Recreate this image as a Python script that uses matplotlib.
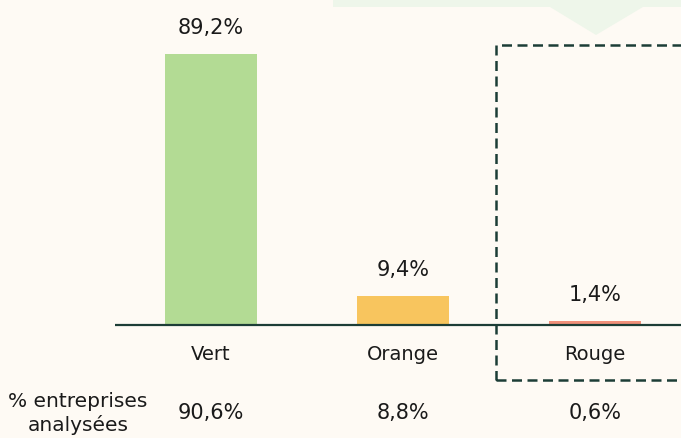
import matplotlib
matplotlib.use("Agg")
import matplotlib.pyplot as plt
from matplotlib.patches import Rectangle, Polygon

categories = ["Vert", "Orange", "Rouge"]
values = [89.2, 9.4, 1.4]
value_labels = ["89,2%", "9,4%", "1,4%"]
share_labels = ["90,6%", "8,8%", "0,6%"]
row_label = "% entreprises\nanalysées"
colors = ["#B3DB94", "#F8C55E", "#F0907A"]

BG = "#FEFAF4"
DARK = "#1C3D36"
TXT = "#1A1A1A"

W, H = 681, 438
fig = plt.figure(figsize=(W / 100, H / 100), dpi=100, facecolor=BG)
ax = fig.add_axes([0, 0, 1, 1])
ax.set_facecolor(BG)

# pixel -> data mapping
px_per_unit = 192.0
x0_px = 211.0
px_per_pct = 271.0 / 89.2
base_px = H - 325.0
ax.set_xlim(-x0_px / px_per_unit, (W - x0_px) / px_per_unit)
ax.set_ylim(-base_px / px_per_pct, (H - base_px) / px_per_pct)
ax.axis("off")

# top decoration (band + arrow)
band = Polygon([(333 / W, 1), (1, 1), (1, 1 - 7 / H), (643 / W, 1 - 7 / H),
                (596 / W, 1 - 35 / H), (550 / W, 1 - 7 / H), (333 / W, 1 - 7 / H)],
               closed=True, transform=fig.transFigure, facecolor="#EEF6EA",
               edgecolor="none", zorder=0)
fig.patches.append(band)

xs = list(range(len(categories)))
ax.bar(xs, values, width=92 / px_per_unit, color=colors, zorder=2)

# baseline
ax.plot([(115 - x0_px) / px_per_unit, (W - x0_px) / px_per_unit], [0, 0],
        color=DARK, lw=1.6, zorder=3, solid_capstyle="butt")

# dashed box around Rouge
bx = (496 - x0_px) / px_per_unit
by_top = (H - 45 - base_px) / px_per_pct
by_bot = (H - 380 - base_px) / px_per_pct
rect = Rectangle((bx, by_bot), 3.0 - bx, by_top - by_bot, fill=False,
                 edgecolor=DARK, lw=1.8, linestyle=(0, (4, 2.2)), zorder=4)
ax.add_patch(rect)

fs_val = 15
fs_cat = 14
for x, v, lab in zip(xs, values, value_labels):
    ax.annotate(lab, (x, v), xytext=(0, 26 * 0.72), textcoords="offset points",
                ha="center", va="center", fontsize=fs_val, color=TXT)

for x, c in zip(xs, categories):
    ax.annotate(c, (x, 0), xytext=(0, -30 * 0.72), textcoords="offset points",
                ha="center", va="center", fontsize=fs_cat, color=TXT)

for x, s in zip(xs, share_labels):
    ax.annotate(s, (x, 0), xytext=(0, -88 * 0.72), textcoords="offset points",
                ha="center", va="center", fontsize=fs_val, color=TXT)

ax.annotate(row_label, ((78 - x0_px) / px_per_unit, 0), xytext=(0, -88.5 * 0.72),
            textcoords="offset points", ha="center", va="center",
            fontsize=14.5, color=TXT, linespacing=1.3, annotation_clip=False)

fig.savefig("out.png", dpi=100, facecolor=BG)
